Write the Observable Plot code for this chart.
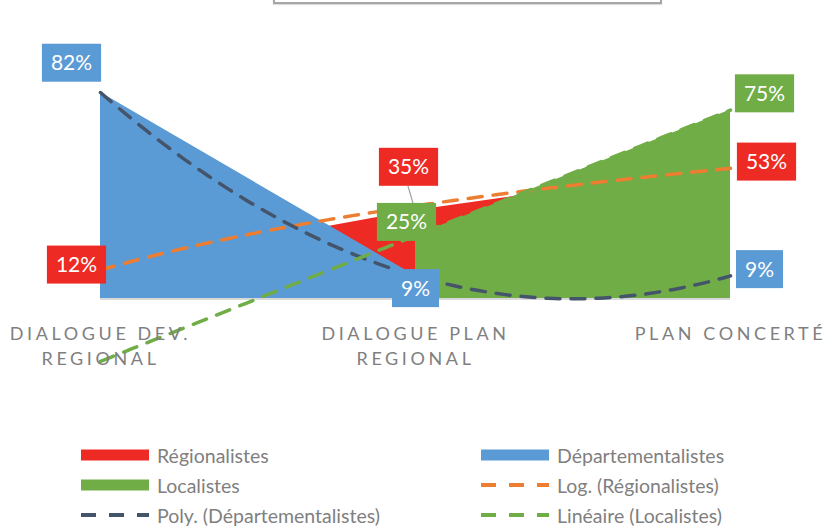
<!DOCTYPE html>
<html>
<head>
<meta charset="utf-8">
<script src="https://cdn.jsdelivr.net/npm/d3@7"></script>
<script src="https://cdn.jsdelivr.net/npm/@observablehq/plot@0.6"></script>
<style>
  body { margin: 0; background: #fff; font-family: Lato, "Open Sans", sans-serif; }
  #wrap { position: relative; width: 833px; height: 527px; overflow: hidden; background: #fff; }
  #chart { position: absolute; left: 0; top: 0; }
  .titlebox { position: absolute; left: 273px; top: -40px; width: 389px; height: 44px;
    border: 2px solid #a6a6a6; box-sizing: border-box; box-shadow: 0 1px 1px #dcdcdc; }
  .item { position: absolute; height: 30px; display: flex; align-items: center;
    font-size: 19.5px; color: #7f7f7f; white-space: nowrap; }
  .item svg { margin-right: 8px; }
  g[aria-label="x-axis tick label"] text { letter-spacing: 3.6px; }
</style>
</head>
<body>
<div id="wrap">
  <div class="titlebox"></div>
  <div id="chart"></div>
  <div id="legend"></div>
</div>
<script>
// ---------- data ----------
const categories = ["DIALOGUE DEV. REGIONAL", "DIALOGUE PLAN REGIONAL", "PLAN CONCERTÉ"];
const seriesNames = ["Régionalistes", "Départementalistes", "Localistes"];
const regionalistes = [12, 35, 53];
const departementalistes = [82, 9, 9];
const localistes = [null, 25, 75];
const trendNames = ["Log. (Régionalistes)", "Poly. (Départementalistes)", "Linéaire (Localistes)"];

// ---------- styles ----------
const colors = { reg: "#ee2a24", dep: "#5b9bd5", loc: "#70ad47" };
const trendColors = { log: "#ed7d31", poly: "#44546a", lin: "#70ad47" };

// ---------- helpers ----------
const toPoints = arr => arr.map((v, i) => ({ x: i + 1, y: v }));
const defined = arr => toPoints(arr).filter(d => d.y != null);

function polyFit(pts, degree, fx = x => x) {
  const n = degree + 1;
  const A = Array.from({ length: n }, () => new Array(n).fill(0));
  const b = new Array(n).fill(0);
  for (const p of pts) {
    const t = fx(p.x);
    for (let i = 0; i < n; i++) {
      b[i] += Math.pow(t, i) * p.y;
      for (let j = 0; j < n; j++) A[i][j] += Math.pow(t, i + j);
    }
  }
  for (let i = 0; i < n; i++) {
    let m = i;
    for (let k = i + 1; k < n; k++) if (Math.abs(A[k][i]) > Math.abs(A[m][i])) m = k;
    [A[i], A[m]] = [A[m], A[i]]; [b[i], b[m]] = [b[m], b[i]];
    for (let k = i + 1; k < n; k++) {
      const f = A[k][i] / A[i][i];
      for (let j = i; j < n; j++) A[k][j] -= f * A[i][j];
      b[k] -= f * b[i];
    }
  }
  const c = new Array(n).fill(0);
  for (let i = n - 1; i >= 0; i--) {
    let s = b[i];
    for (let j = i + 1; j < n; j++) s -= A[i][j] * c[j];
    c[i] = s / A[i][i];
  }
  return x => c.reduce((s, ck, k) => s + ck * Math.pow(fx(x), k), 0);
}

const xsSample = d3.range(1, 3.0001, 0.02);
const logFn = polyFit(defined(regionalistes), 1, Math.log);
const polyFn = polyFit(defined(departementalistes), 2);
const linFn = polyFit(defined(localistes), 1);
const trend = fn => xsSample.map(x => ({ x, y: fn(x) }));

function wrapLabel(s, max = 13) {
  const words = s.split(" "); const lines = []; let cur = "";
  for (const w of words) {
    if (cur && (cur + " " + w).length > max) { lines.push(cur); cur = w; }
    else cur = cur ? cur + " " + w : w;
  }
  if (cur) lines.push(cur);
  return lines.join("\n");
}

// data labels (values come from the arrays; offsets are placement styling)
const labels = [
  { arr: regionalistes, i: 0, color: colors.reg, dx: -24, dy: -3 },
  { arr: departementalistes, i: 0, color: colors.dep, dx: -29, dy: -29 },
  { arr: regionalistes, i: 1, color: colors.reg, dx: -7, dy: -43, leader: true },
  { arr: localistes, i: 1, color: colors.loc, dx: -9, dy: -13 },
  { arr: departementalistes, i: 1, color: colors.dep, dx: 0, dy: 13 },
  { arr: localistes, i: 2, color: colors.loc, dx: 34, dy: -16 },
  { arr: regionalistes, i: 2, color: colors.reg, dx: 36, dy: -3 },
  { arr: departementalistes, i: 2, color: colors.dep, dx: 29, dy: -6 }
];

const H = 380, baseY = 298;
const dash = "14,11";

const chart = Plot.plot({
  width: 833,
  height: H,
  marginLeft: 100,
  marginRight: 103,
  marginTop: baseY - 2.512 * 100,
  marginBottom: H - baseY,
  style: { fontFamily: "Lato, 'Open Sans', sans-serif", background: "transparent", overflow: "visible" },
  x: { type: "linear", domain: [1, 3] },
  y: { domain: [0, 100] },
  marks: [
    Plot.ruleY([0], { x1: 1, x2: 3, stroke: "#d9d9d9", strokeWidth: 2, dy: 0.5 }),
    Plot.areaY(toPoints(regionalistes), { x: "x", y1: 0, y2: "y", fill: colors.reg }),
    Plot.areaY(toPoints(departementalistes), { x: "x", y1: 0, y2: "y", fill: colors.dep }),
    Plot.areaY(toPoints(localistes), { x: "x", y1: 0, y2: "y", fill: colors.loc }),
    Plot.line(trend(logFn), { x: "x", y: "y", stroke: trendColors.log, strokeWidth: 3.5, strokeDasharray: dash }),
    Plot.line(trend(polyFn), { x: "x", y: "y", stroke: trendColors.poly, strokeWidth: 3.5, strokeDasharray: dash }),
    Plot.line(trend(linFn), { x: "x", y: "y", stroke: trendColors.lin, strokeWidth: 3.5, strokeDasharray: dash }),
    Plot.axisX({
      ticks: [1, 2, 3],
      tickFormat: i => wrapLabel(categories[i - 1]),
      tickSize: 0,
      tickPadding: 24,
      fontSize: 18,
      fill: "#7f7f7f",
      lineHeight: 1.38,
      label: null
    }),
    Plot.axisY({ ticks: [], label: null, tickSize: 0 }),
    ...labels.map((l, k) => Plot.text([{ x: l.i + 1, y: l.arr[l.i] }], {
      x: "x", y: "y", text: d => d.y + "%", dx: l.dx, dy: l.dy,
      fill: "white", fontSize: 21, ariaDescription: "dlabel-" + k
    }))
  ]
});

document.getElementById("chart").appendChild(chart);

// boxes behind data labels + leader line
const xScale = chart.scale("x"), yScale = chart.scale("y");
const ns = "http://www.w3.org/2000/svg";
const labelGroups = Array.from(chart.querySelectorAll("g[aria-description^='dlabel-']"));
labels.forEach((l, k) => {
  const g = chart.querySelector(`g[aria-description="dlabel-${k}"]`);
  if (!g) return;
  const t = g.querySelector("text");
  const bb = t.getBBox();
  const r = document.createElementNS(ns, "rect");
  const cy = bb.y + bb.height / 2 + 1;
  r.setAttribute("x", bb.x - 9);
  r.setAttribute("y", cy - 19);
  r.setAttribute("width", bb.width + 18);
  r.setAttribute("height", 38);
  r.setAttribute("fill", l.color);
  if (t.getAttribute("transform")) r.setAttribute("transform", t.getAttribute("transform"));
  g.insertBefore(r, t);
  if (l.leader && labelGroups.length) {
    const px = xScale.apply(l.i + 1), py = yScale.apply(l.arr[l.i]);
    const ln = document.createElementNS(ns, "line");
    ln.setAttribute("x1", px + l.dx);
    ln.setAttribute("y1", py + l.dy + 19);
    ln.setAttribute("x2", px);
    ln.setAttribute("y2", py);
    ln.setAttribute("stroke", "#a6a6a6");
    ln.setAttribute("stroke-width", 1.3);
    labelGroups[0].parentNode.insertBefore(ln, labelGroups[0]);
  }
});

// legend
const legendItems = [
  { name: seriesNames[0], type: "rect", color: colors.reg, left: 81, cy: 455 },
  { name: seriesNames[1], type: "rect", color: colors.dep, left: 481, cy: 455 },
  { name: seriesNames[2], type: "rect", color: colors.loc, left: 81, cy: 485 },
  { name: trendNames[0], type: "dash", color: trendColors.log, left: 481, cy: 485 },
  { name: trendNames[1], type: "dash", color: trendColors.poly, left: 81, cy: 515 },
  { name: trendNames[2], type: "dash", color: trendColors.lin, left: 481, cy: 515 }
];
const leg = document.getElementById("legend");
for (const it of legendItems) {
  const div = document.createElement("div");
  div.className = "item";
  div.style.left = it.left + "px";
  div.style.top = (it.cy - 15) + "px";
  const sw = it.type === "rect"
    ? `<svg width="68" height="12"><rect x="0" y="0.5" width="68" height="11" fill="${it.color}"/></svg>`
    : `<svg width="68" height="12"><line x1="0" y1="6" x2="68" y2="6" stroke="${it.color}" stroke-width="4" stroke-dasharray="15,13"/></svg>`;
  div.innerHTML = sw + `<span>${it.name}</span>`;
  leg.appendChild(div);
}
</script>
</body>
</html>
